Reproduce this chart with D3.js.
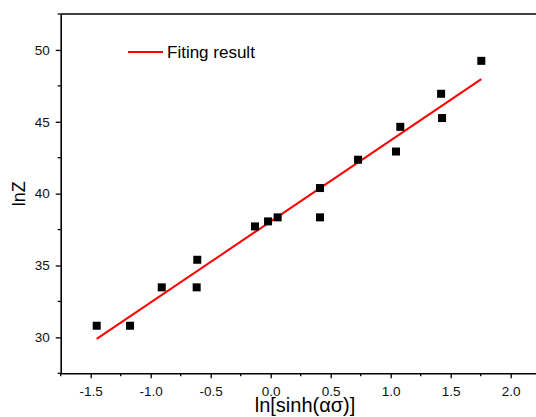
<!DOCTYPE html>
<html>
<head>
<meta charset="utf-8">
<script src="https://cdn.jsdelivr.net/npm/d3@7"></script>
<style>
  html, body { margin: 0; padding: 0; background: #fff; }
  svg { display: block; font-family: "Liberation Sans", Arial, sans-serif; }
</style>
</head>
<body>
<div id="chart"></div>
<script>
/* ---- data ---- */
const lnSinh = [-1.45, -1.172, -0.908, -0.617, -0.612, -0.131, -0.022, 0.058,
                0.411, 0.411, 0.728, 1.044, 1.08, 1.42, 1.428, 1.755];
const lnZ    = [30.81, 30.81, 33.48, 33.48, 35.40, 37.72, 38.07, 38.35,
                40.39, 38.35, 42.36, 42.93, 44.65, 46.95, 45.26, 49.24];
const fitX   = [-1.45, 1.755];
const fitY   = [29.89, 47.97];
const xTicks = [-1.5, -1.0, -0.5, 0.0, 0.5, 1.0, 1.5, 2.0];
const yTicks = [30, 35, 40, 45, 50];
const legendLabel = 'Fiting result';

(function () {
  'use strict';

  const W = 536, H = 417;
  const m = { left: 60.7, top: 14, right: 540.7, bottom: 373.3 };

  const x = d3.scaleLinear().domain([-1.75, 2.25]).range([m.left, m.right]);
  const y = d3.scaleLinear().domain([27.5, 52.5]).range([m.bottom, m.top]);

  const svg = d3.select('#chart').append('svg')
    .attr('width', W).attr('height', H);

  /* ---- minor ticks ---- */
  const xMinor = d3.range(-1.75, 2.3, 0.25).filter(v => !xTicks.some(t => Math.abs(t - v) < 1e-6));
  const yMinor = d3.range(27.5, 52.6, 2.5).filter(v => !yTicks.some(t => Math.abs(t - v) < 1e-6));

  svg.append('g').selectAll('line').data(xMinor).join('line')
    .attr('x1', d => x(d)).attr('x2', d => x(d))
    .attr('y1', m.bottom).attr('y2', m.bottom + 3)
    .attr('stroke', '#000').attr('stroke-width', 1.3);

  svg.append('g').selectAll('line').data(yMinor).join('line')
    .attr('y1', d => y(d)).attr('y2', d => y(d))
    .attr('x1', m.left).attr('x2', m.left - 3)
    .attr('stroke', '#000').attr('stroke-width', 1.3);

  /* ---- axes ---- */
  const xAxis = svg.append('g')
    .attr('transform', `translate(0,${m.bottom})`)
    .call(d3.axisBottom(x).tickValues(xTicks).tickFormat(d3.format('.1f'))
      .tickSizeInner(5).tickSizeOuter(0).tickPadding(8));

  const yAxis = svg.append('g')
    .attr('transform', `translate(${m.left},0)`)
    .call(d3.axisLeft(y).tickValues(yTicks).tickFormat(d3.format('d'))
      .tickSizeInner(5).tickSizeOuter(0).tickPadding(6));

  [xAxis, yAxis].forEach(g => {
    g.select('.domain').attr('stroke', '#000').attr('stroke-width', 1.6);
    g.selectAll('.tick line').attr('stroke', '#000').attr('stroke-width', 1.3);
    g.selectAll('.tick text')
      .attr('fill', '#111')
      .style('font-size', '13.5px')
      .style('font-family', '"Liberation Sans", Arial, sans-serif');
  });

  // minus sign as hyphen like the original
  xAxis.selectAll('.tick text').text(d => d3.format('.1f')(d).replace('−', '-'));

  /* ---- top frame line ---- */
  svg.append('line')
    .attr('x1', m.left).attr('x2', m.right)
    .attr('y1', m.top).attr('y2', m.top)
    .attr('stroke', '#000').attr('stroke-width', 1.6);

  /* ---- fit line ---- */
  const line = d3.line().x(d => x(d[0])).y(d => y(d[1]));
  svg.append('path')
    .datum(fitX.map((v, i) => [v, fitY[i]]))
    .attr('d', line)
    .attr('fill', 'none')
    .attr('stroke', '#ff0000')
    .attr('stroke-width', 2);

  /* ---- points ---- */
  const S = 8;
  svg.append('g').selectAll('rect')
    .data(lnSinh.map((v, i) => [v, lnZ[i]]))
    .join('rect')
      .attr('x', d => x(d[0]) - S / 2)
      .attr('y', d => y(d[1]) - S / 2)
      .attr('width', S).attr('height', S)
      .attr('fill', '#000');

  /* ---- legend ---- */
  svg.append('line')
    .attr('x1', 128).attr('x2', 163)
    .attr('y1', 52).attr('y2', 52)
    .attr('stroke', '#ff0000').attr('stroke-width', 2);
  svg.append('text')
    .attr('x', 167).attr('y', 52)
    .attr('dominant-baseline', 'central')
    .style('font-size', '17px')
    .attr('fill', '#000')
    .text(legendLabel);

  /* ---- axis titles ---- */
  svg.append('text')
    .attr('x', 305).attr('y', 412)
    .attr('text-anchor', 'middle')
    .style('font-size', '20px')
    .attr('fill', '#000')
    .text('ln[sinh(ασ)]');

  svg.append('text')
    .attr('transform', `translate(25,${(m.top + m.bottom) / 2}) rotate(-90)`)
    .attr('text-anchor', 'middle')
    .style('font-size', '18px')
    .attr('fill', '#000')
    .text('lnZ');
})();
</script>
</body>
</html>
